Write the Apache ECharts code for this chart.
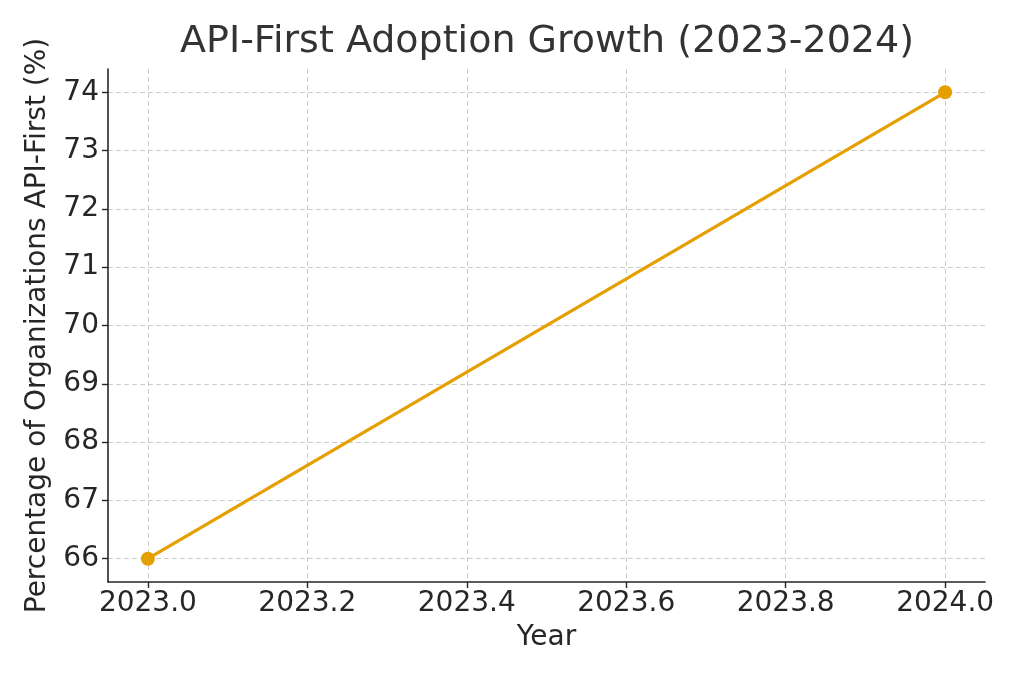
<!DOCTYPE html>
<html><head><meta charset="utf-8">
<script src="https://cdn.jsdelivr.net/npm/echarts@6/dist/echarts.min.js"></script>
<style>html,body{margin:0;padding:0;background:#fff}#c{width:1024px;height:683px}</style>
</head><body><div id="c"></div>
<script>
const years = [2023, 2024];
const adoption = [66, 74];
const xTicks = [2023.0, 2023.2, 2023.4, 2023.6, 2023.8, 2024.0];
const yTicks = [66, 67, 68, 69, 70, 71, 72, 73, 74];
const titleText = 'API-First Adoption Growth (2023-2024)';
const xName = 'Year';
const yName = 'Percentage of Organizations API-First (%)';

const font = 'DejaVu Sans';
const txt = '#262626';
const chart = echarts.init(document.getElementById('c'), null, {renderer: 'canvas'});
chart.setOption({
  animation: false,
  title: {text: titleText, left: 542, textAlign: 'center', top: 18,
    textStyle: {fontFamily: font, fontSize: 38, fontWeight: 'normal', color: '#333'}},
  grid: {left: 108, right: 39, top: 69, bottom: 101},
  xAxis: {
    type: 'value', min: 2022.95, max: 2024.05,
    name: xName, nameLocation: 'middle', nameGap: 42,
    nameTextStyle: {fontFamily: font, fontSize: 28, color: txt},
    axisLine: {show: true, lineStyle: {color: txt, width: 1.6}},
    axisTick: {show: true, inside: false, length: 6, customValues: xTicks, lineStyle: {color: txt, width: 1.4}},
    axisLabel: {customValues: xTicks, margin: 8, fontFamily: font, fontSize: 28, color: txt,
      formatter: v => Number(v).toFixed(1)},
    splitLine: {show: true, lineStyle: {type: [5, 3], color: '#cccccc', width: 1}}
  },
  yAxis: {
    type: 'value', min: 65.6, max: 74.4,
    name: yName, nameLocation: 'middle', nameGap: 56, nameRotate: 90,
    nameTextStyle: {fontFamily: font, fontSize: 28, color: txt},
    axisLine: {show: true, lineStyle: {color: txt, width: 1.6}},
    axisTick: {show: true, inside: false, length: 6, customValues: yTicks, lineStyle: {color: txt, width: 1.4}},
    axisLabel: {customValues: yTicks, margin: 9, fontFamily: font, fontSize: 28, color: txt},
    splitLine: {show: true, lineStyle: {type: [5, 3], color: '#cccccc', width: 1}}
  },
  series: [{
    type: 'line',
    data: years.map((y, i) => [y, adoption[i]]),
    symbol: 'circle', symbolSize: 14,
    lineStyle: {color: '#E69F00', width: 3.3},
    itemStyle: {color: '#E69F00'}
  }]
});
</script></body></html>
